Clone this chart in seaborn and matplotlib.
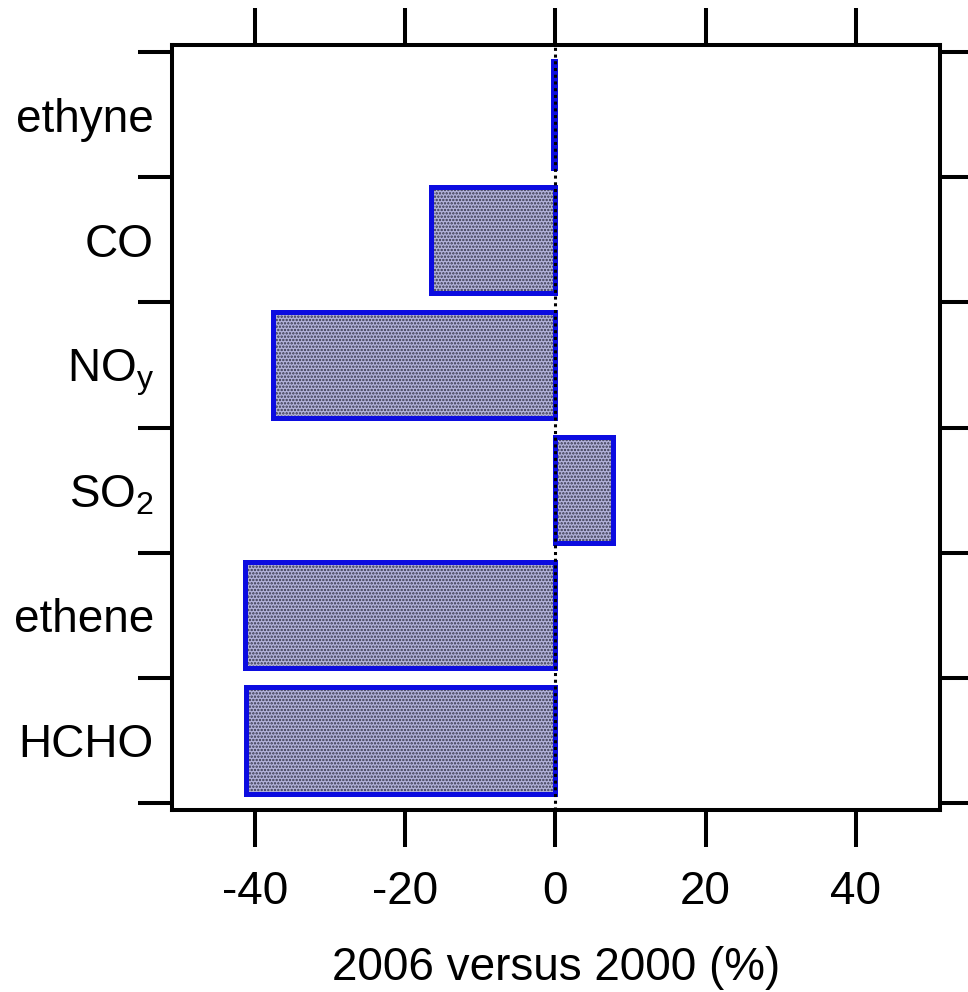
import numpy as np
import pandas as pd
import matplotlib
matplotlib.use("Agg")
import matplotlib.pyplot as plt
import seaborn as sns

# Percentage change in mixing ratio, 2006 relative to 2000
species = ["ethyne", "CO", r"NO$_\mathregular{y}$", r"SO$_\mathregular{2}$", "ethene", "HCHO"]
change_pct = [-0.3, -16.5, -37.5, 7.7, -41.3, -41.1]
x_ticks = [-40, -20, 0, 20, 40]

df = pd.DataFrame({"species": species, "change": change_pct})

sns.set_theme(style="white")
plt.rcParams["font.family"] = ["Liberation Sans", "DejaVu Sans"]
plt.rcParams["mathtext.default"] = "regular"
plt.rcParams["hatch.linewidth"] = 1.15
plt.rcParams["text.color"] = "black"
plt.rcParams["axes.labelcolor"] = "black"
plt.rcParams["xtick.color"] = "black"
plt.rcParams["ytick.color"] = "black"

fig = plt.figure(figsize=(9.68, 9.92), dpi=100)
ax = fig.add_axes([172 / 968, 1 - 810 / 992, (940 - 172) / 968, (810 - 45) / 992])

bar_width = 0.85
# stippled fill
sns.barplot(data=df, x="change", y="species", orient="h", ax=ax,
            width=bar_width, color="#b2b2da", saturation=1,
            edgecolor="#34344a", linewidth=0, hatch=".....", zorder=2)
# blue outline
sns.barplot(data=df, x="change", y="species", orient="h", ax=ax,
            width=bar_width, color="#0c0ce0", saturation=1, fill=False,
            linewidth=3.6, zorder=3)

# dotted zero line
ax.axvline(0, color="black", lw=2.2, ls=(0, (1, 1.2)), zorder=4)

ax.set_xlim(-51, 51.2)
ax.set_ylim(5.556, -0.556)
ax.set_xticks(x_ticks)
ax.set_xticklabels([str(t) for t in x_ticks])
ax.set_yticks(np.arange(len(species)))
ax.set_yticklabels(species)
ax.set_yticks(np.arange(-0.5, len(species)), minor=True)

for side in ax.spines.values():
    side.set_linewidth(2.9)
    side.set_color("black")

ax.tick_params(axis="x", which="major", direction="out", length=26.5, width=2.9,
               top=True, bottom=True, labelsize=33, pad=17, color="black",
               labelcolor="black")
ax.tick_params(axis="y", which="major", length=0, labelsize=33, pad=13,
               labelcolor="black")
ax.tick_params(axis="y", which="minor", direction="out", length=24.5, width=2.9,
               left=True, right=True, color="black")

ax.set_xlabel("2006 versus 2000 (%)", fontsize=33, labelpad=23, color="black")
ax.set_ylabel("")
ax.grid(False)

fig.savefig("out.png", dpi=100)
